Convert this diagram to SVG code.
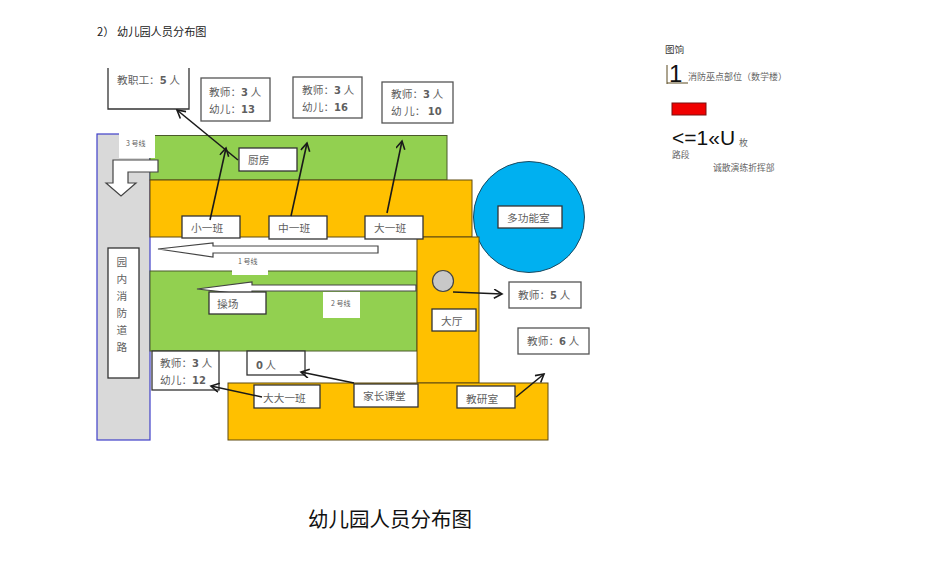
<svg xmlns="http://www.w3.org/2000/svg" width="950" height="577" viewBox="0 0 950 577">
<style>
text{font-family:"Noto Sans CJK SC","Liberation Sans",sans-serif;fill:#5f5f5f;font-size:10.700px}
.box{fill:#fff;stroke:#555;stroke-width:1.3}
.dark{stroke:#333}
.green{fill:#92d050;stroke:#4a5a2a;stroke-width:1}
.orange{fill:#ffc000;stroke:#5f4a10;stroke-width:1}
.white{fill:#fff}
.blk{fill:#fff;stroke:#444;stroke-width:1.2}
.ar{fill:none;stroke:#1a1a1a;stroke-width:1.600;marker-end:url(#ah)}
.s{font-size:7px}
.b{font-family:"DejaVu Sans",sans-serif;font-weight:bold;font-size:10px}
.leg{font-size:8.800px;fill:#666}
.big{font-family:"Liberation Sans",sans-serif;fill:#111;font-size:23px}
</style>
<defs>
<marker id="ah" markerWidth="12" markerHeight="12" refX="9" refY="5" orient="auto" markerUnits="userSpaceOnUse">
<path d="M1,0.5 L9,5 L1,9.5" fill="none" stroke="#1a1a1a" stroke-width="1.600"/>
</marker>
</defs>

<text x="97" y="36" style="fill:#222;font-size:11.200px">2）</text>
<text x="117" y="36" style="fill:#222;font-size:11.200px">幼儿园人员分布图</text>

<g id="road-bg"><rect x="97" y="134" width="53" height="306" fill="#d9d9d9" stroke="#4040c8" stroke-width="1.2"/></g>
<g id="zone-green-top"><rect class="green" x="150" y="135.500" width="297" height="44.500"/></g>
<g id="zone-orange-top"><rect class="orange" x="150" y="180" width="322" height="57"/></g>
<g id="zone-multi"><circle cx="529" cy="217" r="55.500" fill="#00b0f0" stroke="#1c4a60" stroke-width="1"/></g>
<g id="zone-green-play"><rect class="green" x="150" y="271" width="267" height="80"/></g>
<g id="zone-orange-hall"><rect class="orange" x="417" y="237" width="62" height="146"/></g>
<g id="zone-orange-bottom"><rect class="orange" x="228" y="383" width="320" height="57"/></g>

<g id="label-line3"><rect class="white" x="119" y="133" width="36" height="25"/><text class="s" x="126" y="146">3 号线</text></g>
<g id="label-line1"><rect class="white" x="232" y="252" width="36" height="23"/><text class="s" x="238" y="264">1 号线</text></g>
<g id="label-line2"><rect class="white" x="323" y="292" width="37" height="26"/><text class="s" x="331" y="306">2 号线</text></g>

<g id="route-3"><path class="blk" d="M113,160 H158 V172 H128 V183 H136 L121,196 L106,183 H113 Z"/></g>
<g id="route-1"><path class="blk" d="M158,249 L213,243 V246 H378 V253 H213 V257 Z"/></g>
<g id="route-2"><path class="blk" d="M197,289 L252,282 V285 H416 V291 H252 V295 Z"/></g>

<g id="n-staff"><path class="box dark" d="M108,68 V109 H189 V68"/><text x="117" y="84">教职工：<tspan class="b">5</tspan> 人</text></g>
<g id="n-small-count"><rect class="box" x="201" y="78" width="69" height="43"/><text x="209" y="96">教师：<tspan class="b">3</tspan> 人</text><text x="209" y="113">幼儿：<tspan class="b">13</tspan></text></g>
<g id="n-mid-count"><rect class="box" x="293" y="77" width="69" height="41"/><text x="302" y="94">教师：<tspan class="b">3</tspan> 人</text><text x="302" y="111">幼儿：<tspan class="b">16</tspan></text></g>
<g id="n-big-count"><rect class="box" x="382" y="82" width="71" height="41"/><text x="391" y="98">教师：<tspan class="b">3</tspan> 人</text><text x="391" y="115">幼 儿： <tspan class="b">10</tspan></text></g>
<g id="n-kitchen"><rect class="box dark" x="239" y="148" width="58" height="23"/><text x="248" y="164">厨房</text></g>
<g id="n-small"><rect class="box dark" x="182" y="216" width="58" height="22"/><text x="191" y="232">小一班</text></g>
<g id="n-mid"><rect class="box dark" x="269" y="216" width="58" height="23"/><text x="278" y="232">中一班</text></g>
<g id="n-big"><rect class="box dark" x="365" y="216" width="58" height="23"/><text x="374" y="232">大一班</text></g>
<g id="n-multi"><rect class="box dark" x="498" y="206" width="64" height="22"/><text x="507" y="222">多功能室</text></g>
<g id="n-road"><rect class="box dark" x="108" y="248" width="31" height="130"/>
<text x="116.500" y="266">园</text><text x="116.500" y="283">内</text><text x="116.500" y="300">消</text><text x="116.500" y="317">防</text><text x="116.500" y="334">道</text><text x="116.500" y="351">路</text></g>
<g id="n-play"><rect class="box dark" x="209" y="292" width="57" height="22"/><text x="217" y="308">操场</text></g>
<g id="n-hall-dot"><circle cx="443" cy="281" r="10.500" fill="#c8c8c8" stroke="#444" stroke-width="1.2"/></g>
<g id="n-hall"><rect class="box dark" x="432" y="309" width="44" height="22"/><text x="441" y="325">大厅</text></g>
<g id="n-hall-count"><rect class="box" x="509" y="282" width="72" height="26"/><text x="518" y="299">教师：<tspan class="b">5</tspan> 人</text></g>
<g id="n-office-count"><rect class="box" x="518" y="328" width="71" height="26"/><text x="527" y="345">教师：<tspan class="b">6</tspan> 人</text></g>
<g id="n-senior-count"><rect class="box dark" x="152" y="351" width="67" height="39"/><text x="160" y="367">教师：<tspan class="b">3</tspan> 人</text><text x="160" y="384">幼儿：<tspan class="b">12</tspan></text></g>
<g id="n-parent-count"><rect class="box dark" x="247" y="351" width="58" height="24"/><text x="256" y="369"><tspan class="b">0</tspan> 人</text></g>
<g id="n-senior"><rect class="box dark" x="254" y="385" width="66" height="23"/><text x="263" y="402">大大一班</text></g>
<g id="n-parent"><rect class="box dark" x="354" y="384" width="64" height="23"/><text x="363" y="400">家长课堂</text></g>
<g id="n-office"><rect class="box dark" x="457" y="386" width="58" height="22"/><text x="466" y="403">教研室</text></g>

<g id="connectors">
<line class="ar" x1="238" y1="160" x2="177" y2="110"/>
<line class="ar" x1="210" y1="220" x2="226" y2="148"/>
<line class="ar" x1="291" y1="216" x2="307" y2="143"/>
<line class="ar" x1="387" y1="213" x2="402" y2="141"/>
<line class="ar" x1="453" y1="292" x2="502" y2="294"/>
<line class="ar" x1="516" y1="397" x2="544" y2="374"/>
<line class="ar" x1="354" y1="383" x2="301" y2="372"/>
<line class="ar" x1="262" y1="397" x2="211" y2="386"/>
</g>

<g id="legend">
<text x="665" y="53" style="font-size:9.500px;fill:#333">图饷</text>
<path d="M667,65 V84 M667,83 H688" fill="none" stroke="#5a4a20" stroke-width="1"/>
<text class="big" x="669" y="82" style="font-size:24px">1</text>
<text class="leg" x="688" y="80" style="font-size:9px">消防巫点部位（数学楼）</text>
<rect x="672" y="103" width="34" height="12" fill="#f00000" stroke="#7a1010" stroke-width="1"/>
<text class="big" x="672" y="145" style="font-size:21px">&lt;=1«U</text>
<text class="leg" x="739" y="146">枚</text>
<text class="leg" x="672" y="158">路段</text>
<text class="leg" x="713" y="171">诚散演练折挥部</text>
</g>

<text x="308" y="527" style="font-size:20.500px;fill:#111">幼儿园人员分布图</text>
</svg>
